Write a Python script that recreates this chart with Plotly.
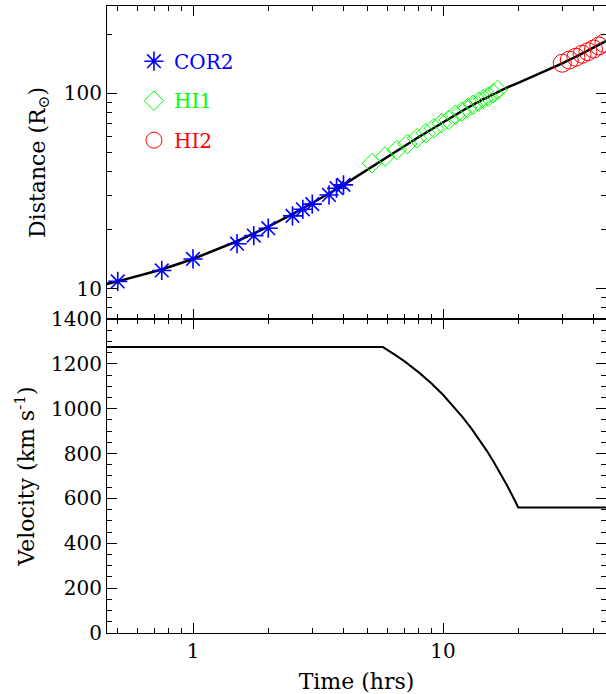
import plotly.graph_objects as go
from plotly.subplots import make_subplots

# ---- data ----
cor2_t = [0.5, 0.75, 1.0, 1.5, 1.75, 2.0, 2.5, 2.75, 3.0, 3.5, 3.75, 4.0]
cor2_d = [10.9, 12.4, 14.2, 17.0, 18.7, 20.4, 23.6, 25.5, 27.1, 30.2, 32.7, 34.0]

hi1_t = [5.2, 5.87, 6.53, 7.2, 7.87, 8.53, 9.2, 9.87, 10.53, 11.2, 11.87, 12.53,
         13.2, 13.87, 14.53, 15.2, 15.87, 16.53]
hi1_d = [43.9, 47.5, 51.3, 55.0, 58.9, 62.5, 66.3, 70.3, 73.1, 77.6, 80.6, 83.9,
         87.3, 90.7, 93.5, 96.2, 100.0, 104.0]

hi2_t = [30, 32, 34, 36, 38, 40, 42, 44]
hi2_d = [142.6, 148.0, 153.0, 158.5, 163.4, 168.6, 174.7, 180.3]

fit_t = [0.45, 0.5, 0.75, 1, 1.5, 2, 2.5, 3, 3.5, 4, 5, 5.75, 7, 8, 9, 10, 12, 14,
         16, 18, 20, 25, 30, 35, 40, 45]
fit_d = [10.57, 10.9, 12.55, 14.2, 17.5, 20.8, 24.1, 27.4, 30.7, 34.0, 40.6, 45.55,
         53.6, 59.74, 65.63, 71.25, 81.72, 91.15, 99.54, 106.9, 113.2, 127.7, 142.2,
         156.7, 171.2, 185.7]

vel_t = [0.45, 5.75, 6.5, 7, 8, 9, 10, 11, 12, 13, 14, 15, 16, 17, 18, 19, 20, 45]
vel_v = [1275, 1275, 1237, 1212, 1162, 1112, 1062, 1011, 961, 911, 861, 811, 760,
         710, 660, 610, 560, 560]

FONT = "DejaVu Serif"

fig = make_subplots(rows=2, cols=1, shared_xaxes=True, vertical_spacing=0,
                    row_heights=[0.4992, 0.5008])

fig.add_trace(go.Scatter(x=fit_t, y=fit_d, mode="lines",
                         line=dict(color="black", width=2.5), showlegend=False),
              row=1, col=1)
fig.add_trace(go.Scatter(x=cor2_t, y=cor2_d, mode="markers", name="COR2",
                         marker=dict(symbol="asterisk-open", size=16, color="#0000ff",
                                     line=dict(color="#0000ff", width=1.6)),
                         legend="legend"), row=1, col=1)
fig.add_trace(go.Scatter(x=hi1_t, y=hi1_d, mode="markers", name="HI1",
                         marker=dict(symbol="diamond-open", size=15, color="#00ff00",
                                     line=dict(color="#00ff00", width=1)),
                         legend="legend2"), row=1, col=1)
fig.add_trace(go.Scatter(x=hi2_t, y=hi2_d, mode="markers", name="HI2",
                         marker=dict(symbol="circle-open", size=18, color="#ff0000",
                                     line=dict(color="#ff0000", width=1)),
                         legend="legend3"), row=1, col=1)

fig.add_trace(go.Scatter(x=vel_t, y=vel_v, mode="lines",
                         line=dict(color="black", width=2), showlegend=False),
              row=2, col=1)

axis_common = dict(showline=True, linecolor="black", linewidth=1, mirror="allticks",
                   ticks="inside", ticklen=10, tickwidth=1, tickcolor="black",
                   showgrid=False, zeroline=False, automargin=False,
                   tickfont=dict(family=FONT, size=20, color="black"))

x_minor = dict(ticks="inside", ticklen=5, tickwidth=1, tickcolor="black",
               tickvals=[0.5, 0.6, 0.7, 0.8, 0.9, 2, 3, 4, 5, 6, 7, 8, 9, 20, 30, 40])

fig.update_xaxes(type="log", range=[-0.344, 1.652], tickvals=[1, 10],
                 ticktext=["1", "10"], minor=x_minor, **axis_common)
fig.update_xaxes(showticklabels=False, row=1, col=1)
fig.update_xaxes(title=dict(text="Time (hrs)", font=dict(family=FONT, size=22, color="black"),
                            standoff=11), row=2, col=1)

fig.update_yaxes(type="log", range=[0.845, 2.447], tickvals=[10, 100],
                 ticktext=["10", "100"],
                 minor=dict(ticks="inside", ticklen=5, tickwidth=1, tickcolor="black",
                            tickvals=[8, 9, 20, 30, 40, 50, 60, 70, 80, 90, 200]),
                 title=dict(text="Distance (R<sub>⊙</sub>)",
                            font=dict(family=FONT, size=22, color="black"), standoff=12),
                 row=1, col=1, **axis_common)
fig.update_yaxes(range=[0, 1400], dtick=200, tick0=0,
                 minor=dict(ticks="inside", ticklen=5, tickwidth=1, tickcolor="black",
                            dtick=50),
                 title=dict(text="Velocity (km s<sup>-1</sup>)",
                            font=dict(family=FONT, size=22, color="black"), standoff=10),
                 row=2, col=1, **axis_common)

leg_common = dict(xanchor="left", yanchor="middle", bgcolor="rgba(0,0,0,0)",
                  borderwidth=0, itemwidth=30)
fig.update_layout(
    width=606, height=694,
    margin=dict(l=107, r=0, t=6, b=61, autoexpand=False),
    paper_bgcolor="white", plot_bgcolor="white",
    showlegend=True,
    legend=dict(x=0.054, y=0.912, font=dict(family=FONT, size=20, color="#0000ff"),
                **leg_common),
    legend2=dict(x=0.054, y=0.849, font=dict(family=FONT, size=20, color="#00ff00"),
                 **leg_common),
    legend3=dict(x=0.054, y=0.786, font=dict(family=FONT, size=20, color="#ff0000"),
                 **leg_common),
)

fig.write_html("out.html", config={"displayModeBar": False},
               post_script="document.body.style.margin='0';")
